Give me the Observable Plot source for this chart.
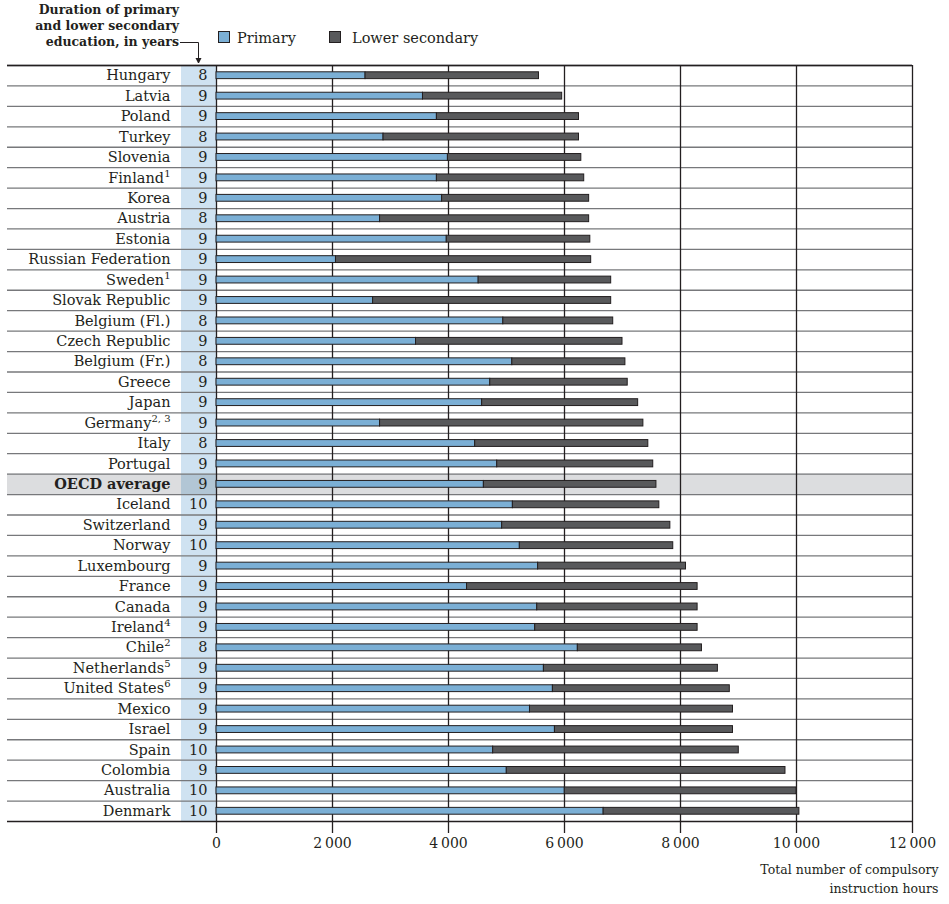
<!DOCTYPE html>
<html>
<head>
<meta charset="utf-8">
<script src="https://cdn.jsdelivr.net/npm/d3@7"></script>
<script src="https://cdn.jsdelivr.net/npm/@observablehq/plot@0.6"></script>
<style>
  body { margin: 0; background: #fff; }
  #wrap { position: relative; width: 949px; height: 904px; font-family: "DejaVu Serif", serif; color: #231f20; }
  #head { position: absolute; left: 0; top: 0; width: 949px; height: 63px; }
  #dur { position: absolute; right: 770px; top: 2px; text-align: right; font-weight: bold; font-size: 12.5px; line-height: 16px; white-space: nowrap; }
  .sw { position: absolute; top: 31px; width: 12px; height: 12px; border: 1px solid #231f20; box-sizing: border-box; }
  .lt { position: absolute; top: 28px; font-size: 14.5px; line-height: 20px; white-space: nowrap; }
  #chart { position: absolute; left: 0; top: 63px; }
</style>
</head>
<body>
<div id="wrap">
  <div id="head">
    <div id="dur">Duration of primary<br>and lower secondary<br>education, in years</div>
    <svg width="949" height="63" style="position:absolute;left:0;top:0">
      <path d="M180,42.5H198.5V59" fill="none" stroke="#231f20" stroke-width="1"/>
      <path d="M195.5,58L201.5,58L198.5,64Z" fill="#231f20"/>
    </svg>
    <div class="sw" id="sw1" style="left:218px"></div>
    <div class="lt" id="lt1" style="left:237px"></div>
    <div class="sw" id="sw2" style="left:329px"></div>
    <div class="lt" id="lt2" style="left:352px"></div>
  </div>
  <div id="chart"></div>
</div>
<script>
const countries = ["Hungary","Latvia","Poland","Turkey","Slovenia","Finland","Korea","Austria","Estonia","Russian Federation","Sweden","Slovak Republic","Belgium (Fl.)","Czech Republic","Belgium (Fr.)","Greece","Japan","Germany","Italy","Portugal","OECD average","Iceland","Switzerland","Norway","Luxembourg","France","Canada","Ireland","Chile","Netherlands","United States","Mexico","Israel","Spain","Colombia","Australia","Denmark"];
const footnotes = ["","","","","","1","","","","","1","","","","","","","2, 3","","","","","","","","","","4","2","5","6","","","","","",""];
const durations = [8,9,9,8,9,9,9,8,9,9,9,9,8,9,8,9,9,9,8,9,9,10,9,10,9,9,9,9,8,9,9,9,9,10,9,10,10];
const primary = [2570,3560,3800,2880,3990,3800,3890,2820,3970,2060,4520,2700,4945,3440,5100,4720,4580,2820,4460,4840,4610,5110,4925,5230,5545,4320,5530,5495,6230,5645,5800,5405,5835,4770,5005,6005,6675];
const lowerSecondary = [2990,2400,2450,3370,2300,2540,2535,3605,2475,4400,2285,4105,1895,3560,1950,2370,2690,4540,2985,2690,2975,2525,2900,2645,2550,3975,2765,2800,2140,3000,3050,3500,3070,4235,4805,3995,3375];
const xTicks = [0,2000,4000,6000,8000,10000,12000];
const levels = ["Primary","Lower secondary"];
const levelColors = ["#7bafd5","#58595b"];
const highlight = "OECD average";
const axisTitle = "Total number of compulsory\ninstruction hours";

const values = {"Primary": primary, "Lower secondary": lowerSecondary};
const table = countries.flatMap((c, i) => levels.map(l => ({country: c, level: l, value: values[l][i]})));
const rows = countries.map((c, i) => ({country: c, duration: durations[i], note: footnotes[i]}));
const noteMap = new Map(rows.filter(r => r.note).map(r => [r.country, r.note]));

// legend
d3.select("#sw1").style("background", levelColors[0]);
d3.select("#sw2").style("background", levelColors[1]);
d3.select("#lt1").text(levels[0]);
d3.select("#lt2").text(levels[1]);

const W = 949, H = 841, mTop = 2, mBottom = 83, mLeft = 216, mRight = 37;
const bw = (H - mTop - mBottom) / countries.length;
const fmt = d3.formatLocale({decimal: ".", thousands: "\u2009", grouping: [3], currency: ["", ""]}).format(",");
const ink = "#231f20";

const chart = Plot.plot({
  width: W, height: H,
  marginTop: mTop, marginBottom: mBottom, marginLeft: mLeft, marginRight: mRight,
  style: {fontFamily: "DejaVu Serif", fontSize: "14px", color: ink, background: "white", overflow: "visible"},
  x: {domain: [0, 12000], axis: null},
  y: {domain: countries, padding: 0, round: false, axis: null},
  color: {domain: levels, range: levelColors},
  marks: [
    Plot.barX(rows, {filter: d => d.country === highlight, y: "country", x1: 0, x2: 12000, insetLeft: -209, fill: "#dcdddf"}),
    Plot.barX(rows, {filter: d => d.country !== highlight, y: "country", x1: 0, x2: 0, insetLeft: -35, fill: "#cfe2f1"}),
    Plot.barX(rows, {filter: d => d.country === highlight, y: "country", x1: 0, x2: 0, insetLeft: -35, fill: "#b2c6d5"}),
    Plot.ruleY(countries, {y: d => d, dy: -bw / 2, insetLeft: -209, stroke: "#77787b", strokeWidth: 1.3}),
    Plot.ruleY(countries.slice(0, 1), {y: d => d, dy: -bw / 2, insetLeft: -209, stroke: ink, strokeWidth: 1.3}),
    Plot.ruleY(countries.slice(-1), {y: d => d, dy: bw / 2, insetLeft: -209, stroke: ink, strokeWidth: 1.3}),
    Plot.ruleX(xTicks, {stroke: ink, strokeWidth: 1.3}),
    Plot.barX(table, Plot.stackX({y: "country", x: "value", fill: "level", stroke: ink, strokeWidth: 1, insetTop: 6.8, insetBottom: 6.8})),
    Plot.text(rows, {filter: d => d.country !== highlight, y: "country", text: "country", frameAnchor: "left", dx: -46, textAnchor: "end", fill: ink, fontSize: 14.5}),
    Plot.text(rows, {filter: d => d.country === highlight, y: "country", text: "country", frameAnchor: "left", dx: -46, textAnchor: "end", fontWeight: "bold", fill: ink, fontSize: 14.5}),
    Plot.text(rows, {y: "country", text: d => String(d.duration), frameAnchor: "left", dx: -9, textAnchor: "end", fill: ink, fontSize: 14.5}),
    Plot.axisX(xTicks, {tickSize: 12, tickPadding: 5, tickFormat: fmt, stroke: ink, strokeWidth: 1.3, fontSize: 14, fill: ink, label: null}),
    Plot.text([axisTitle], {frameAnchor: "bottom-right", dx: 26, dy: 39, lineAnchor: "top", textAnchor: "end", fontSize: 12.5, lineHeight: 1.5, fill: ink})
  ]
});

d3.select(chart).selectAll("text").each(function () {
  const note = noteMap.get(this.textContent);
  if (note) d3.select(this).append("tspan").attr("font-size", 10).attr("dy", -6).text(note);
});

document.getElementById("chart").appendChild(chart);
</script>
</body>
</html>
